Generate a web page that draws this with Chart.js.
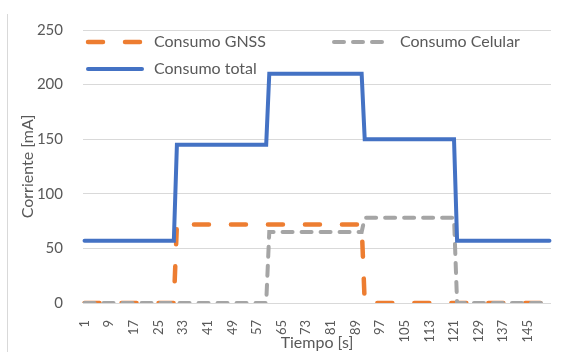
<!DOCTYPE html>
<html>
<head>
<meta charset="utf-8">
<script src="https://cdn.jsdelivr.net/npm/chart.js@4/dist/chart.umd.min.js"></script>
<style>
  html, body { margin: 0; padding: 0; background: #fff; }
  #wrap { position: relative; width: 563px; height: 352px; }
  #edge { position: absolute; left: 7px; top: 14px; width: 1px; height: 338px; background: #d9d9d9; }
</style>
</head>
<body>
<div id="wrap">
  <div id="edge"></div>
  <canvas id="consumo" width="563" height="352"></canvas>
</div>
<script>
// Tiempo [s]
const tiempo = [
  1, 2, 3, 4, 5, 6, 7, 8, 9, 10,
  11, 12, 13, 14, 15, 16, 17, 18, 19, 20,
  21, 22, 23, 24, 25, 26, 27, 28, 29, 30,
  31, 32, 33, 34, 35, 36, 37, 38, 39, 40,
  41, 42, 43, 44, 45, 46, 47, 48, 49, 50,
  51, 52, 53, 54, 55, 56, 57, 58, 59, 60,
  61, 62, 63, 64, 65, 66, 67, 68, 69, 70,
  71, 72, 73, 74, 75, 76, 77, 78, 79, 80,
  81, 82, 83, 84, 85, 86, 87, 88, 89, 90,
  91, 92, 93, 94, 95, 96, 97, 98, 99, 100,
  101, 102, 103, 104, 105, 106, 107, 108, 109, 110,
  111, 112, 113, 114, 115, 116, 117, 118, 119, 120,
  121, 122, 123, 124, 125, 126, 127, 128, 129, 130,
  131, 132, 133, 134, 135, 136, 137, 138, 139, 140,
  141, 142, 143, 144, 145, 146, 147, 148, 149, 150,
  151, 152,
];

// Consumo GNSS [mA]
const consumoGnss = [
  0, 0, 0, 0, 0, 0, 0, 0, 0, 0,
  0, 0, 0, 0, 0, 0, 0, 0, 0, 0,
  0, 0, 0, 0, 0, 0, 0, 0, 0, 0,
  72, 72, 72, 72, 72, 72, 72, 72, 72, 72,
  72, 72, 72, 72, 72, 72, 72, 72, 72, 72,
  72, 72, 72, 72, 72, 72, 72, 72, 72, 72,
  72, 72, 72, 72, 72, 72, 72, 72, 72, 72,
  72, 72, 72, 72, 72, 72, 72, 72, 72, 72,
  72, 72, 72, 72, 72, 72, 72, 72, 72, 72,
  72, 0, 0, 0, 0, 0, 0, 0, 0, 0,
  0, 0, 0, 0, 0, 0, 0, 0, 0, 0,
  0, 0, 0, 0, 0, 0, 0, 0, 0, 0,
  0, 0, 0, 0, 0, 0, 0, 0, 0, 0,
  0, 0, 0, 0, 0, 0, 0, 0, 0, 0,
  0, 0, 0, 0, 0, 0, 0, 0, 0, 0,
  0, 0,
];

// Consumo Celular [mA]
const consumoCelular = [
  0, 0, 0, 0, 0, 0, 0, 0, 0, 0,
  0, 0, 0, 0, 0, 0, 0, 0, 0, 0,
  0, 0, 0, 0, 0, 0, 0, 0, 0, 0,
  0, 0, 0, 0, 0, 0, 0, 0, 0, 0,
  0, 0, 0, 0, 0, 0, 0, 0, 0, 0,
  0, 0, 0, 0, 0, 0, 0, 0, 0, 0,
  65, 65, 65, 65, 65, 65, 65, 65, 65, 65,
  65, 65, 65, 65, 65, 65, 65, 65, 65, 65,
  65, 65, 65, 65, 65, 65, 65, 65, 65, 65,
  65, 78, 78, 78, 78, 78, 78, 78, 78, 78,
  78, 78, 78, 78, 78, 78, 78, 78, 78, 78,
  78, 78, 78, 78, 78, 78, 78, 78, 78, 78,
  78, 0, 0, 0, 0, 0, 0, 0, 0, 0,
  0, 0, 0, 0, 0, 0, 0, 0, 0, 0,
  0, 0, 0, 0, 0, 0, 0, 0, 0, 0,
  0, 0,
];

// Consumo total [mA]
const consumoTotal = [
  57, 57, 57, 57, 57, 57, 57, 57, 57, 57,
  57, 57, 57, 57, 57, 57, 57, 57, 57, 57,
  57, 57, 57, 57, 57, 57, 57, 57, 57, 57,
  145, 145, 145, 145, 145, 145, 145, 145, 145, 145,
  145, 145, 145, 145, 145, 145, 145, 145, 145, 145,
  145, 145, 145, 145, 145, 145, 145, 145, 145, 145,
  210, 210, 210, 210, 210, 210, 210, 210, 210, 210,
  210, 210, 210, 210, 210, 210, 210, 210, 210, 210,
  210, 210, 210, 210, 210, 210, 210, 210, 210, 210,
  210, 150, 150, 150, 150, 150, 150, 150, 150, 150,
  150, 150, 150, 150, 150, 150, 150, 150, 150, 150,
  150, 150, 150, 150, 150, 150, 150, 150, 150, 150,
  150, 57, 57, 57, 57, 57, 57, 57, 57, 57,
  57, 57, 57, 57, 57, 57, 57, 57, 57, 57,
  57, 57, 57, 57, 57, 57, 57, 57, 57, 57,
  57, 57,
];

// etiquetas visibles del eje X
const tickLabels = [1, 9, 17, 25, 33, 41, 49, 57, 65, 73, 81, 89, 97, 105, 113, 121, 129, 137, 145];

const FONT = "Lato, 'Open Sans', sans-serif";
const TEXT = '#595959';

// leyenda a la manera de Excel: dos columnas dentro del área del gráfico
const excelLegend = {
  id: 'excelLegend',
  afterDraw(chart) {
    const { ctx } = chart;
    const spots = [[86, 42], [332, 42], [86, 69]];
    ctx.save();
    ctx.font = `16px ${FONT}`;
    ctx.textBaseline = 'middle';
    chart.data.datasets.forEach((ds, i) => {
      const [x, y] = spots[i];
      ctx.beginPath();
      ctx.setLineDash(ds.borderDash || []);
      ctx.lineCap = ds.borderCapStyle || 'butt';
      ctx.lineWidth = ds.borderWidth;
      ctx.strokeStyle = ds.borderColor;
      ctx.moveTo(x + 2, y);
      ctx.lineTo(x + 56, y);
      ctx.stroke();
      ctx.setLineDash([]);
      ctx.fillStyle = TEXT;
      ctx.fillText(ds.label, x + 68, y);
    });
    ctx.restore();
  },
};

new Chart(document.getElementById('consumo'), {
  type: 'line',
  data: {
    labels: tiempo,
    datasets: [
      {
        label: 'Consumo GNSS',
        data: consumoGnss,
        borderColor: '#ED7D31',
        borderWidth: 4.5,
        borderDash: [15, 22],
        borderCapStyle: 'round',
        order: 2,
      },
      {
        label: 'Consumo Celular',
        data: consumoCelular,
        borderColor: '#A5A5A5',
        borderWidth: 4,
        borderDash: [10, 9],
        borderCapStyle: 'round',
        order: 1,
      },
      {
        label: 'Consumo total',
        data: consumoTotal,
        borderColor: '#4472C4',
        borderWidth: 4,
        borderCapStyle: 'round',
        order: 0,
      },
    ],
  },
  options: {
    responsive: false,
    animation: false,
    events: [],
    elements: {
      point: { radius: 0 },
      line: { tension: 0, borderJoinStyle: 'miter' },
    },
    layout: {
      padding: { left: 18, right: 12, top: 30, bottom: 0 },
    },
    scales: {
      x: {
        type: 'category',
        offset: true,
        grid: { display: false },
        border: { display: false },
        ticks: {
          autoSkip: false,
          minRotation: 90,
          maxRotation: 90,
          padding: 9,
          color: TEXT,
          font: { family: FONT, size: 13 },
          callback(value, index) {
            const t = tiempo[index];
            return tickLabels.includes(t) ? String(t) : '';
          },
        },
        title: {
          display: true,
          text: 'Tiempo [s]',
          color: TEXT,
          font: { family: FONT, size: 16 },
          padding: { top: 0, bottom: 0 },
        },
        afterFit(scale) {
          scale.height = 49;
          scale.paddingLeft = 0;
          scale.paddingRight = 0;
        },
      },
      y: {
        min: 0,
        max: 250,
        grid: { color: '#d9d9d9', lineWidth: 1, drawTicks: false },
        border: { display: false },
        ticks: {
          stepSize: 50,
          padding: 20,
          color: TEXT,
          font: { family: FONT, size: 15 },
        },
        title: {
          display: true,
          text: 'Corriente [mA]',
          color: TEXT,
          font: { family: FONT, size: 16 },
          padding: { top: 0, bottom: 0 },
        },
        afterFit(scale) {
          scale.width = 65;
        },
      },
    },
    plugins: {
      legend: { display: false },
      tooltip: { enabled: false },
    },
  },
  plugins: [excelLegend],
});
</script>
</body>
</html>
